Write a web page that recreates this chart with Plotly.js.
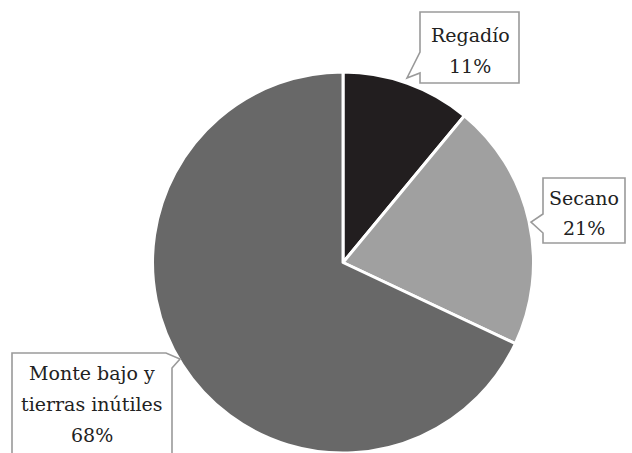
<!DOCTYPE html>
<html>
<head>
<meta charset="utf-8">
<script src="https://cdn.plot.ly/plotly-3.0.1.min.js"></script>
<style>html,body{margin:0;padding:0;background:#fff;}#chart{width:632px;height:453px;}</style>
</head>
<body>
<div id="chart"></div>
<script>
const categories = ["Regadío", "Secano", "Monte bajo y<br>tierras inútiles"];
const values = [11, 21, 68];
const valueLabels = ["11%", "21%", "68%"];
const colors = ["#221e1f", "#a0a0a0", "#686868"];

const W = 632, H = 453;
const px = x => x / W;
const py = y => 1 - y / H;
function pathPx(pts) {
  return "M" + pts.map(p => px(p[0]).toFixed(5) + "," + py(p[1]).toFixed(5)).join(" L") + " Z";
}

// callout geometry in pixels: outline, text center x, line center ys
const callouts = [
  {pts: [[420,12],[519,12],[519,83],[420,83],[420,73],[407,78],[420,52]], cx: 470, ys: [35, 66]},
  {pts: [[543,178],[625,178],[625,243],[543,243],[543,233],[531,222],[543,214]], cx: 584, ys: [198, 228]},
  {pts: [[12,353],[166,353],[180,359],[172,368],[172,475],[12,475]], cx: 92, ys: [373, 404, 435]}
];

const trace = {
  type: "pie",
  values: values,
  labels: categories,
  sort: false,
  direction: "clockwise",
  rotation: 0,
  textinfo: "none",
  hoverinfo: "label+percent",
  marker: {colors: colors, line: {color: "#ffffff", width: 3}},
  domain: {x: [0.2405, 0.845], y: [0, 0.841]},
  showlegend: false
};

const shapes = callouts.map(c => ({
  type: "path", xref: "paper", yref: "paper",
  path: pathPx(c.pts),
  fillcolor: "#ffffff",
  line: {color: "#9a9a9a", width: 1.6},
  layer: "above"
}));

const FONT = "DejaVu Serif";
const annotations = [];
callouts.forEach((c, i) => {
  const lines = categories[i].split("<br>").concat([valueLabels[i]]);
  lines.forEach((t, j) => {
    annotations.push({
      xref: "paper", yref: "paper",
      x: px(c.cx), y: py(c.ys[j]),
      xanchor: "center", yanchor: "middle",
      text: t, showarrow: false,
      font: {family: FONT, size: 19, color: "#222222"}
    });
  });
});

const layout = {
  width: W, height: H,
  margin: {l: 0, r: 0, t: 0, b: 0},
  paper_bgcolor: "#ffffff",
  plot_bgcolor: "#ffffff",
  font: {family: FONT},
  shapes: shapes,
  annotations: annotations
};

Plotly.newPlot("chart", [trace], layout, {displayModeBar: false, staticPlot: true});
</script>
</body>
</html>
